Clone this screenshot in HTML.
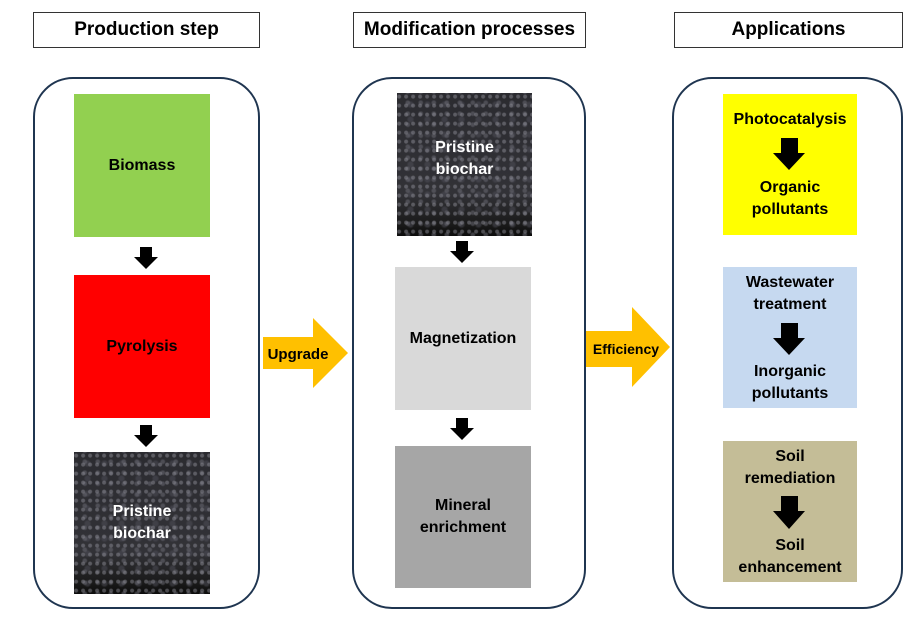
<!DOCTYPE html>
<html><head><meta charset="utf-8"><style>
body{margin:0;width:922px;height:622px;background:#fff;position:relative;overflow:hidden;font-family:"Liberation Sans",sans-serif;font-weight:bold;color:#000}
.a{position:absolute}
.hdr{position:absolute;border:1px solid #333;background:#fff;text-align:center;font-size:19px;line-height:34px;height:34px}
.panel{position:absolute;border:2px solid #1f3550;border-radius:40px;box-sizing:border-box}
.box{position:absolute;display:flex;align-items:center;justify-content:center;text-align:center;font-size:16px;line-height:22px}
.char{background:
radial-gradient(circle at 30% 40%,rgba(150,150,160,.45) 0 1.5px,transparent 2.5px) 0 0/7px 9px,
radial-gradient(circle at 60% 70%,rgba(110,110,120,.5) 0 1.5px,transparent 3px) 3px 2px/13px 11px,
radial-gradient(circle at 50% 50%,rgba(80,80,90,.5) 0 2px,transparent 4px) 5px 4px/17px 15px,
linear-gradient(#2b2b30,#323237 70%,#1a1a1a 92%,#0c0c0c);color:#fff}
.t{position:absolute;width:134px;text-align:center;font-size:16px;line-height:22px}
</style></head><body>
<div class="hdr" style="left:33px;top:12px;width:225px">Production step</div>
<div class="hdr" style="left:353px;top:12px;width:231px">Modification processes</div>
<div class="hdr" style="left:674px;top:12px;width:227px">Applications</div>

<div class="panel" style="left:33px;top:77px;width:227px;height:532px"></div>
<div class="panel" style="left:352px;top:77px;width:234px;height:532px"></div>
<div class="panel" style="left:672px;top:77px;width:231px;height:532px"></div>

<div class="box" style="left:74px;top:94px;width:136px;height:143px;background:#92d050">Biomass</div>
<div class="box" style="left:74px;top:275px;width:136px;height:143px;background:#ff0000">Pyrolysis</div>
<div class="box char" style="left:74px;top:452px;width:136px;height:142px">Pristine<br>biochar</div>

<div class="box char" style="left:397px;top:93px;width:135px;height:143px;align-items:flex-start;padding-top:44px;box-sizing:border-box">Pristine<br>biochar</div>
<div class="box" style="left:395px;top:267px;width:136px;height:143px;background:#d9d9d9">Magnetization</div>
<div class="box" style="left:395px;top:446px;width:136px;height:142px;background:#a6a6a6">Mineral<br>enrichment</div>

<div class="a" style="left:723px;top:94px;width:134px;height:141px;background:#ffff00"></div>
<div class="a" style="left:723px;top:267px;width:134px;height:141px;background:#c6d9f0"></div>
<div class="a" style="left:723px;top:441px;width:134px;height:141px;background:#c4bd97"></div>
<div class="t" style="left:723px;top:109px">Photocatalysis</div>
<div class="t" style="left:723px;top:177px">Organic<br>pollutants</div>
<div class="t" style="left:723px;top:272px">Wastewater<br>treatment</div>
<div class="t" style="left:723px;top:361px">Inorganic<br>pollutants</div>
<div class="t" style="left:723px;top:446px">Soil<br>remediation</div>
<div class="t" style="left:723px;top:535px">Soil<br>enhancement</div>

<svg class="a" style="left:0;top:0" width="922" height="622">
<g fill="#000">
<polygon points="140,247 152,247 152,257 158,257 146,269 134,257 140,257"/>
<polygon points="140,425 152,425 152,435 158,435 146,447 134,435 140,435"/>
<polygon points="456,241 468,241 468,251 474,251 462,263 450,251 456,251"/>
<polygon points="456,418 468,418 468,428 474,428 462,440 450,428 456,428"/>
<polygon points="781,138 798,138 798,153 805,153 789,170 773,153 781,153"/>
<polygon points="781,323 798,323 798,338 805,338 789,355 773,338 781,338"/>
<polygon points="781,496 798,496 798,511 805,511 789,529 773,511 781,511"/>
</g>
<polygon fill="#ffc000" points="263,337 313,337 313,318 348,353 313,388 313,369 263,369"/>
<polygon fill="#ffc000" points="586,331 632,331 632,307 670,347 632,387 632,367 586,367"/>
<text x="298" y="359" text-anchor="middle" font-size="15" font-weight="bold" font-family="Liberation Sans,sans-serif">Upgrade</text>
<text x="626" y="354" text-anchor="middle" font-size="14" font-weight="bold" font-family="Liberation Sans,sans-serif">Efficiency</text>
</svg>
</body></html>
